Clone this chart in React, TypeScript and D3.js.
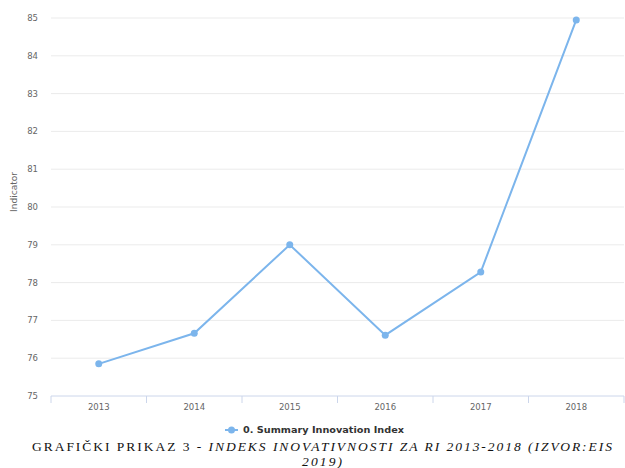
import * as d3 from 'd3';

const years = ['2013', '2014', '2015', '2016', '2017', '2018'];
const values = [75.85, 76.66, 79.0, 76.61, 78.28, 84.95];
const yTicks = [75, 76, 77, 78, 79, 80, 81, 82, 83, 84, 85];

const W = 625;
const H = 468;
const LEFT = 51;
const RIGHT = 624;
const TOP = 18;
const BOTTOM = 396;
const LINE_COLOR = '#7cb5ec';
const SANS = '"DejaVu Sans", "Open Sans", sans-serif';
const SERIF = '"Liberation Serif", "Times New Roman", serif';

export default function App() {
  const x = d3.scaleBand<string>().domain(years).range([LEFT, RIGHT]);
  const y = d3.scaleLinear().domain([75, 85]).range([BOTTOM, TOP]);
  const line = d3
    .line<number>()
    .x((_, i) => (x(years[i]) ?? 0) + x.bandwidth() / 2)
    .y((d) => y(d));

  const boundaries = years.map((yr) => x(yr) ?? 0).concat([RIGHT]);

  return (
    <svg
      width={W}
      height={H}
      style={{ position: 'absolute', left: 0, top: 0, background: '#fff' }}
    >
      {yTicks.map((t) => (
        <g key={t}>
          {t > 75 && (
            <line x1={LEFT} x2={RIGHT} y1={y(t)} y2={y(t)} stroke="#ebebeb" strokeWidth={1} />
          )}
          <text
            x={38}
            y={y(t)}
            dy="0.35em"
            textAnchor="end"
            fontFamily={SANS}
            fontSize={8.5}
            fill="#666"
          >
            {t}
          </text>
        </g>
      ))}
      <text
        transform="translate(17,192) rotate(-90)"
        textAnchor="middle"
        fontFamily={SANS}
        fontSize={9}
        fill="#666"
      >
        Indicator
      </text>
      <line x1={LEFT} x2={RIGHT} y1={BOTTOM} y2={BOTTOM} stroke="#ccd6eb" strokeWidth={1} />
      {boundaries.map((b, i) => (
        <line key={i} x1={b} x2={b} y1={BOTTOM} y2={BOTTOM + 7} stroke="#ccd6eb" strokeWidth={1} />
      ))}
      {years.map((yr) => (
        <text
          key={yr}
          x={(x(yr) ?? 0) + x.bandwidth() / 2}
          y={407}
          dy="0.35em"
          textAnchor="middle"
          fontFamily={SANS}
          fontSize={8.5}
          fill="#666"
        >
          {yr}
        </text>
      ))}
      <path d={line(values) ?? ''} fill="none" stroke={LINE_COLOR} strokeWidth={2} />
      {values.map((v, i) => (
        <circle
          key={i}
          cx={(x(years[i]) ?? 0) + x.bandwidth() / 2}
          cy={y(v)}
          r={3.5}
          fill={LINE_COLOR}
        />
      ))}
      <g>
        <line x1={225} x2={238} y1={430} y2={430} stroke={LINE_COLOR} strokeWidth={2} />
        <circle cx={231.5} cy={430} r={3.5} fill={LINE_COLOR} />
        <text
          x={243}
          y={430}
          dy="0.35em"
          fontFamily={SANS}
          fontSize={9}
          fontWeight="bold"
          fill="#333"
          textLength={161}
          lengthAdjust="spacingAndGlyphs"
        >
          0. Summary Innovation Index
        </text>
      </g>
      <text
        x={32}
        y={451}
        fontFamily={SERIF}
        fontSize={13.5}
        fill="#111"
        textLength={580}
        lengthAdjust="spacing"
      >
        GRAFIČKI PRIKAZ 3 -{' '}
        <tspan fontStyle="italic">INDEKS INOVATIVNOSTI ZA RI 2013-2018 (IZVOR:EIS</tspan>
      </text>
      <text
        x={302}
        y={466}
        fontFamily={SERIF}
        fontSize={13.5}
        fontStyle="italic"
        fill="#111"
        textLength={40}
        lengthAdjust="spacing"
      >
        2019)
      </text>
    </svg>
  );
}
